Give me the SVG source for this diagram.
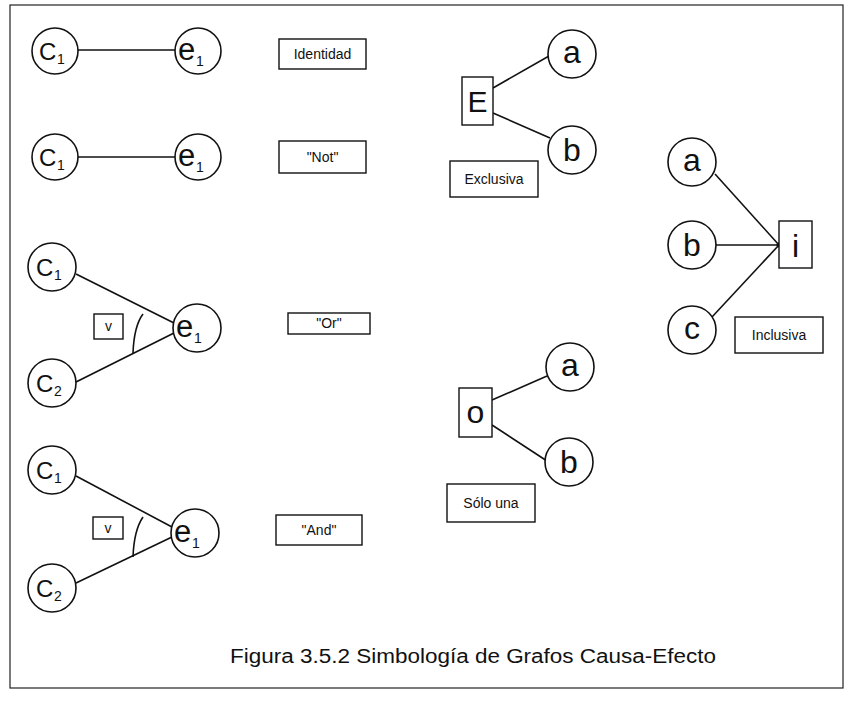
<svg xmlns="http://www.w3.org/2000/svg" width="850" height="701" viewBox="0 0 850 701">
<style>
.frame{fill:none;stroke:#222;stroke-width:1.2}
.nd{fill:#fff;stroke:#111;stroke-width:1.6}
.bx{fill:#fff;stroke:#111;stroke-width:1.4}
.ln{stroke:#111;stroke-width:1.6;fill:none}
.big{font-family:"Liberation Sans",Arial,sans-serif;fill:#111}
.C{font-size:24px}
.e{font-size:31px}
.sub{font-size:14px}
.lt{font-size:32px;text-anchor:middle}
.lbl{font-family:"Liberation Sans",Arial,sans-serif;font-size:14px;text-anchor:middle;fill:#111}
.cap{font-family:"Liberation Sans",Arial,sans-serif;font-size:20px;fill:#111}
</style>
<rect class="frame" x="10" y="5" width="833" height="683"/>
<g id="connectors">
<line class="ln" x1="78" y1="50" x2="175" y2="50"/>
<line class="ln" x1="78" y1="157" x2="175" y2="157"/>
<line class="ln" x1="76" y1="274" x2="174" y2="323"/>
<line class="ln" x1="76" y1="382" x2="174" y2="333"/>
<path class="ln" d="M143,314 Q134,326 133,353"/>
<line class="ln" x1="76" y1="476" x2="172" y2="527"/>
<line class="ln" x1="76" y1="583" x2="172" y2="537"/>
<path class="ln" d="M143,517 Q134,530 133,557"/>
<line class="ln" x1="493" y1="88" x2="549" y2="56"/>
<line class="ln" x1="493" y1="113" x2="550" y2="138"/>
<line class="ln" x1="715" y1="174" x2="779" y2="245"/>
<line class="ln" x1="716" y1="245" x2="779" y2="245"/>
<line class="ln" x1="712" y1="317" x2="779" y2="245"/>
<circle cx="779" cy="245" r="2.5" fill="#111"/>
<line class="ln" x1="492" y1="400" x2="547" y2="376"/>
<line class="ln" x1="492" y1="425" x2="547" y2="461"/>
</g>
<g id="row1-c1"><circle class="nd" cx="55" cy="51" r="23"/><text class="big C" x="39" y="60">C</text><text class="big sub" x="57" y="64">1</text></g>
<g id="row1-e1"><circle class="nd" cx="198" cy="51" r="23"/><text class="big e" x="178" y="60">e</text><text class="big sub" x="196" y="66">1</text></g>
<g id="lbl-identidad"><rect class="bx" x="279" y="39" width="87" height="30"/><text class="lbl" x="322.5" y="59">Identidad</text></g>
<g id="row2-c1"><circle class="nd" cx="55" cy="157" r="23"/><text class="big C" x="39" y="166">C</text><text class="big sub" x="57" y="170">1</text></g>
<g id="row2-e1"><circle class="nd" cx="198" cy="157" r="23"/><text class="big e" x="178" y="166">e</text><text class="big sub" x="196" y="172">1</text></g>
<g id="lbl-not"><rect class="bx" x="279" y="141" width="87" height="32"/><text class="lbl" x="322.5" y="162">"Not"</text></g>
<g id="row3-c1"><circle class="nd" cx="52" cy="267" r="24"/><text class="big C" x="36" y="276">C</text><text class="big sub" x="54" y="280">1</text></g>
<g id="row3-c2"><circle class="nd" cx="52" cy="383" r="24"/><text class="big C" x="36" y="392">C</text><text class="big sub" x="54" y="396">2</text></g>
<g id="row3-e1"><circle class="nd" cx="197" cy="328" r="24"/><text class="big e" x="176" y="337">e</text><text class="big sub" x="194" y="343">1</text></g>
<g id="row3-v"><rect class="bx" x="94" y="314" width="29" height="25"/><text class="lbl" x="108.5" y="331">v</text></g>
<g id="lbl-or"><rect class="bx" x="288" y="313" width="82" height="21"/><text class="lbl" x="329" y="328">"Or"</text></g>
<g id="row4-c1"><circle class="nd" cx="52" cy="470" r="24"/><text class="big C" x="36" y="479">C</text><text class="big sub" x="54" y="483">1</text></g>
<g id="row4-c2"><circle class="nd" cx="52" cy="588" r="24"/><text class="big C" x="36" y="597">C</text><text class="big sub" x="54" y="601">2</text></g>
<g id="row4-e1"><circle class="nd" cx="195" cy="533" r="24"/><text class="big e" x="174" y="542">e</text><text class="big sub" x="192" y="548">1</text></g>
<g id="row4-v"><rect class="bx" x="93" y="517" width="30" height="22"/><text class="lbl" x="108" y="533">v</text></g>
<g id="lbl-and"><rect class="bx" x="276" y="515" width="86" height="30"/><text class="lbl" x="319" y="535">"And"</text></g>
<g id="excl-E"><rect class="bx" x="462" y="77" width="31" height="48"/><text class="big lt" x="477.5" y="112" style="font-size:30px">E</text></g>
<g id="excl-a"><circle class="nd" cx="572" cy="54" r="24"/><text class="big lt" x="572" y="63">a</text></g>
<g id="excl-b"><circle class="nd" cx="572" cy="150" r="24"/><text class="big lt" x="572" y="161">b</text></g>
<g id="lbl-exclusiva"><rect class="bx" x="450" y="161" width="88" height="36"/><text class="lbl" x="494" y="184">Exclusiva</text></g>
<g id="incl-a"><circle class="nd" cx="692" cy="162" r="24"/><text class="big lt" x="692" y="171">a</text></g>
<g id="incl-b"><circle class="nd" cx="692" cy="245" r="24"/><text class="big lt" x="692" y="256">b</text></g>
<g id="incl-c"><circle class="nd" cx="692" cy="330" r="24"/><text class="big lt" x="692" y="339">c</text></g>
<g id="incl-i"><rect class="bx" x="779" y="221" width="33" height="47"/><text class="big lt" x="795.5" y="257">i</text></g>
<g id="lbl-inclusiva"><rect class="bx" x="735" y="317" width="88" height="36"/><text class="lbl" x="779" y="340">Inclusiva</text></g>
<g id="solo-o"><rect class="bx" x="459" y="388" width="33" height="49"/><text class="big lt" x="475.5" y="423">o</text></g>
<g id="solo-a"><circle class="nd" cx="570" cy="367" r="24"/><text class="big lt" x="570" y="376">a</text></g>
<g id="solo-b"><circle class="nd" cx="569" cy="462" r="24"/><text class="big lt" x="569" y="473">b</text></g>
<g id="lbl-solo"><rect class="bx" x="447" y="484" width="88" height="38"/><text class="lbl" x="491" y="508">Sólo una</text></g>
<text class="cap" x="230" y="663" textLength="486" lengthAdjust="spacingAndGlyphs">Figura 3.5.2  Simbología de Grafos Causa-Efecto</text>
</svg>
